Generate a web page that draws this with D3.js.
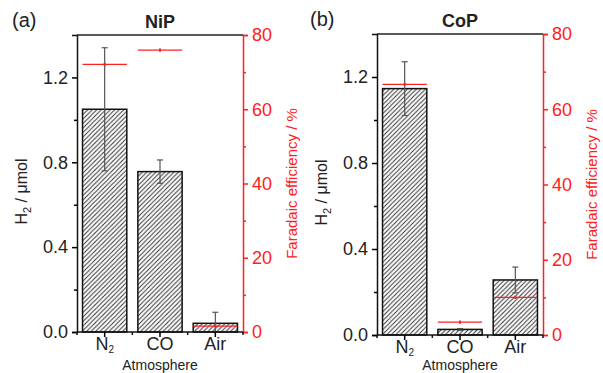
<!DOCTYPE html>
<html>
<head>
<meta charset="utf-8">
<script src="https://cdn.jsdelivr.net/npm/d3@7"></script>
<style>
  body { margin: 0; background: #fff; }
  svg { font-family: Arial, "Liberation Sans", sans-serif; }
  .axis path, .axis line { stroke-width: 1.5; }
  .axis text { font-size: 18px; }
</style>
</head>
<body>
<script>
var categories = ["N2", "CO", "Air"];

// NiP panel
var nipH2 = [1.05, 0.756, 0.041];
var nipH2Err = [0.29, 0.055, 0.052];
var nipFE = [72.1, 75.9, 1.6];
var nipFEErr = [0.3, 0.3, 0.3];

// CoP panel
var copH2 = [1.146, 0.026, 0.256];
var copH2Err = [0.125, 0.004, 0.06];
var copFE = [66.6, 3.4, 10.0];
var copFEErr = [0.3, 0.3, 0.3];

var h2Ticks = [0, 0.4, 0.8, 1.2];
var h2Minor = [0.2, 0.6, 1.0];
var feTicks = [0, 20, 40, 60, 80];
var feMinor = [10, 30, 50, 70];

var svg = d3.select("body").append("svg")
    .attr("width", 603)
    .attr("height", 373);

var defs = svg.append("defs");
var pat = defs.append("pattern")
    .attr("id", "hatch")
    .attr("patternUnits", "userSpaceOnUse")
    .attr("width", 4.5)
    .attr("height", 4.5);
pat.append("rect").attr("width", 4.5).attr("height", 4.5).attr("fill", "#fff");
pat.append("path")
    .attr("d", "M-1,1 l2,-2 M0,4.5 l4.5,-4.5 M3.5,5.5 l2,-2")
    .attr("stroke", "#333")
    .attr("stroke-width", 1);

function drawPanel(opts) {
  var width = opts.right - opts.left,
      height = opts.bottom - opts.top;

  var g = svg.append("g")
      .attr("transform", "translate(" + opts.left + "," + opts.top + ")");

  var x = d3.scaleBand()
      .domain(categories)
      .range([0, width])
      .paddingInner(0.2)
      .paddingOuter(0.1);

  var y = d3.scaleLinear().domain([0, 1.4]).range([height, 0]);
  var y2 = d3.scaleLinear().domain([0, 80]).range([height, 0]);

  var data = categories.map(function(c, i) {
    return {cat: c, h2: opts.h2[i], h2err: opts.h2err[i], fe: opts.fe[i], feerr: opts.feerr[i]};
  });

  // bars
  g.selectAll(".bar")
      .data(data)
    .enter().append("rect")
      .attr("class", "bar")
      .attr("x", function(d) { return x(d.cat); })
      .attr("y", function(d) { return y(d.h2); })
      .attr("width", x.bandwidth())
      .attr("height", function(d) { return height - y(d.h2); })
      .attr("fill", "url(#hatch)")
      .attr("stroke", "#111")
      .attr("stroke-width", 1.5);

  // H2 error bars
  var eb = g.selectAll(".err")
      .data(data)
    .enter().append("g")
      .attr("class", "err")
      .attr("stroke", "#555")
      .attr("stroke-width", 1.2);
  eb.append("line")
      .attr("x1", function(d) { return x(d.cat) + x.bandwidth() / 2; })
      .attr("x2", function(d) { return x(d.cat) + x.bandwidth() / 2; })
      .attr("y1", function(d) { return y(Math.max(0, d.h2 - d.h2err)); })
      .attr("y2", function(d) { return y(d.h2 + d.h2err); });
  eb.append("line")
      .attr("x1", function(d) { return x(d.cat) + x.bandwidth() / 2 - 3; })
      .attr("x2", function(d) { return x(d.cat) + x.bandwidth() / 2 + 3; })
      .attr("y1", function(d) { return y(d.h2 + d.h2err); })
      .attr("y2", function(d) { return y(d.h2 + d.h2err); });
  eb.filter(function(d) { return d.h2 - d.h2err > 0; }).append("line")
      .attr("x1", function(d) { return x(d.cat) + x.bandwidth() / 2 - 3; })
      .attr("x2", function(d) { return x(d.cat) + x.bandwidth() / 2 + 3; })
      .attr("y1", function(d) { return y(d.h2 - d.h2err); })
      .attr("y2", function(d) { return y(d.h2 - d.h2err); });

  // faradaic efficiency markers
  var fe = g.selectAll(".fe")
      .data(data)
    .enter().append("g")
      .attr("class", "fe")
      .attr("stroke", "#ff2020")
      .attr("stroke-width", 1.3);
  fe.append("line")
      .attr("x1", function(d) { return x(d.cat); })
      .attr("x2", function(d) { return x(d.cat) + x.bandwidth(); })
      .attr("y1", function(d) { return y2(d.fe); })
      .attr("y2", function(d) { return y2(d.fe); });
  fe.append("line")
      .attr("x1", function(d) { return x(d.cat) + x.bandwidth() / 2; })
      .attr("x2", function(d) { return x(d.cat) + x.bandwidth() / 2; })
      .attr("y1", function(d) { return y2(d.fe - d.feerr) + 0.5; })
      .attr("y2", function(d) { return y2(d.fe + d.feerr) - 0.5; })
      .attr("stroke-width", 2);

  // left axis
  g.append("g")
      .attr("class", "axis")
      .call(d3.axisLeft(y).tickValues(h2Ticks).tickFormat(d3.format(".1f")).tickSize(5).tickPadding(4))
      .call(function(a) { a.selectAll("text").attr("fill", "#222"); a.select(".domain").attr("stroke", "#111"); });
  g.append("g")
      .attr("class", "axis")
      .call(d3.axisLeft(y).tickValues(h2Minor).tickFormat("").tickSize(3))
      .call(function(a) { a.select(".domain").remove(); });

  // right axis
  var ra = g.append("g")
      .attr("class", "axis")
      .attr("transform", "translate(" + width + ",0)")
      .call(d3.axisRight(y2).tickValues(feTicks).tickSize(5).tickPadding(4));
  ra.select(".domain").attr("stroke", "#ff2020");
  ra.selectAll("line").attr("stroke", "#ff2020");
  ra.selectAll("text").attr("fill", "#ff2020");
  var rm = g.append("g")
      .attr("class", "axis")
      .attr("transform", "translate(" + width + ",0)")
      .call(d3.axisRight(y2).tickValues(feMinor).tickFormat("").tickSize(3));
  rm.select(".domain").remove();
  rm.selectAll("line").attr("stroke", "#ff2020");

  // top frame
  g.append("line")
      .attr("x1", 0).attr("x2", width)
      .attr("y1", 0).attr("y2", 0)
      .attr("stroke", "#222")
      .attr("stroke-width", 1.5);

  // bottom axis
  var xa = g.append("g")
      .attr("class", "axis")
      .attr("transform", "translate(0," + height + ")")
      .call(d3.axisBottom(x).tickSize(5).tickPadding(4).tickFormat(""));
  xa.select(".domain").attr("stroke", "#111").attr("d", "M0,0H" + width);
  var bounds = [0, width].concat(categories.slice(1).map(function(c) { return x(c) - x.step() * x.paddingInner() / 2; }));
  xa.selectAll(".minor")
      .data(bounds)
    .enter().append("line")
      .attr("class", "minor")
      .attr("x1", function(d) { return d; })
      .attr("x2", function(d) { return d; })
      .attr("y1", 0).attr("y2", 3)
      .attr("stroke", "#111");
  xa.selectAll(".clab")
      .data(categories)
    .enter().append("text")
      .attr("class", "clab")
      .attr("x", function(c) { return x(c) + x.bandwidth() / 2; })
      .attr("y", 18)
      .attr("text-anchor", "middle")
      .attr("font-size", "16px")
      .attr("fill", "#222")
      .each(function(c) {
        var t = d3.select(this);
        if (c === "N2") {
          t.append("tspan").text("N");
          t.append("tspan").attr("font-size", "10px").attr("dy", 3).text("2");
        } else {
          t.text(c);
        }
      });

  g.append("text")
      .attr("x", width / 2)
      .attr("y", 370 - opts.top)
      .attr("text-anchor", "middle")
      .attr("font-size", "14px")
      .attr("fill", "#222")
      .text("Atmosphere");

  // left label
  var ll = g.append("text")
      .attr("transform", "translate(" + opts.ylabX + "," + (height / 2 + 8) + ") rotate(-90)")
      .attr("text-anchor", "middle")
      .attr("font-size", "16px")
      .attr("fill", "#222");
  ll.append("tspan").text("H");
  ll.append("tspan").attr("font-size", "11px").attr("dy", 4).text("2");
  ll.append("tspan").attr("dy", -4).text(" / \u03bcmol");

  // right label
  g.append("text")
      .attr("transform", "translate(" + (width + 54) + "," + (height / 2) + ") rotate(-90)")
      .attr("text-anchor", "middle")
      .attr("font-size", "15px")
      .attr("fill", "#ff2020")
      .text("Faradaic efficiency / %");

  // title and panel letter
  g.append("text")
      .attr("x", width / 2)
      .attr("y", -7)
      .attr("text-anchor", "middle")
      .attr("font-size", "18px")
      .attr("font-weight", "bold")
      .attr("fill", "#222")
      .text(opts.title);
  g.append("text")
      .attr("x", opts.letterX)
      .attr("y", -8)
      .attr("font-size", "20px")
      .attr("fill", "#222")
      .text(opts.letter);
}

drawPanel({left: 77, right: 243, top: 35, bottom: 332,
  h2: nipH2, h2err: nipH2Err, fe: nipFE, feerr: nipFEErr,
  title: "NiP", letter: "(a)", letterX: -65, ylabX: -50});

drawPanel({left: 377, right: 543, top: 34, bottom: 335,
  h2: copH2, h2err: copH2Err, fe: copFE, feerr: copFEErr,
  title: "CoP", letter: "(b)", letterX: -67, ylabX: -50});
</script>
</body>
</html>
